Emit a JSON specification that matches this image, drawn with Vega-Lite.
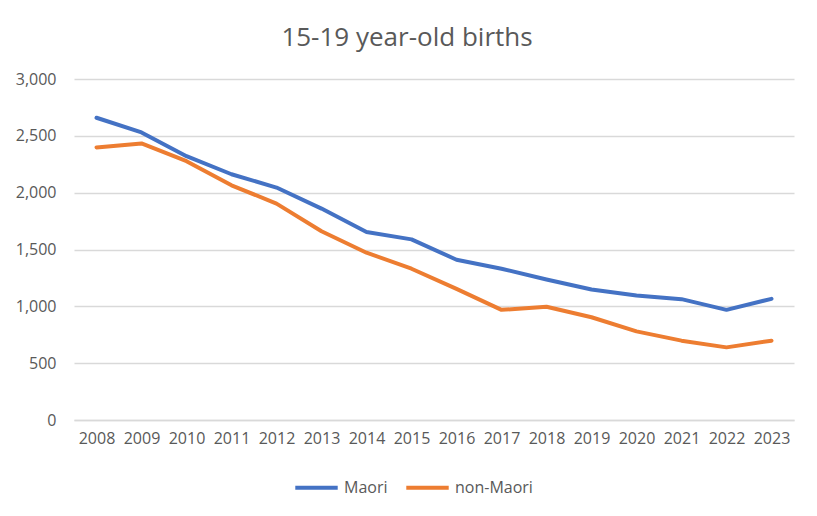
{
  "$schema": "https://vega.github.io/schema/vega-lite/v6.json",
  "width": 720,
  "height": 341,
  "autosize": "none",
  "padding": {"left": 74, "top": 79, "right": 23, "bottom": 96},
  "background": "white",
  "title": {
    "text": "15-19 year-old births",
    "fontSize": 26,
    "fontWeight": "normal",
    "font": "Open Sans",
    "color": "#595959",
    "anchor": "middle",
    "dx": -27,
    "offset": 20
  },
  "data": {
    "values": [
      {"year": "2008", "group": "Maori", "births": 2659},
      {"year": "2009", "group": "Maori", "births": 2530},
      {"year": "2010", "group": "Maori", "births": 2321},
      {"year": "2011", "group": "Maori", "births": 2162},
      {"year": "2012", "group": "Maori", "births": 2045},
      {"year": "2013", "group": "Maori", "births": 1860},
      {"year": "2014", "group": "Maori", "births": 1654},
      {"year": "2015", "group": "Maori", "births": 1589},
      {"year": "2016", "group": "Maori", "births": 1410},
      {"year": "2017", "group": "Maori", "births": 1331},
      {"year": "2018", "group": "Maori", "births": 1236},
      {"year": "2019", "group": "Maori", "births": 1148},
      {"year": "2020", "group": "Maori", "births": 1095},
      {"year": "2021", "group": "Maori", "births": 1063},
      {"year": "2022", "group": "Maori", "births": 969},
      {"year": "2023", "group": "Maori", "births": 1066},
      {"year": "2008", "group": "non-Maori", "births": 2398},
      {"year": "2009", "group": "non-Maori", "births": 2433},
      {"year": "2010", "group": "non-Maori", "births": 2277},
      {"year": "2011", "group": "non-Maori", "births": 2065},
      {"year": "2012", "group": "non-Maori", "births": 1904},
      {"year": "2013", "group": "non-Maori", "births": 1660},
      {"year": "2014", "group": "non-Maori", "births": 1472},
      {"year": "2015", "group": "non-Maori", "births": 1331},
      {"year": "2016", "group": "non-Maori", "births": 1154},
      {"year": "2017", "group": "non-Maori", "births": 969},
      {"year": "2018", "group": "non-Maori", "births": 996},
      {"year": "2019", "group": "non-Maori", "births": 904},
      {"year": "2020", "group": "non-Maori", "births": 780},
      {"year": "2021", "group": "non-Maori", "births": 698},
      {"year": "2022", "group": "non-Maori", "births": 639},
      {"year": "2023", "group": "non-Maori", "births": 698}
    ]
  },
  "mark": {"type": "line", "strokeWidth": 4, "strokeCap": "round", "strokeJoin": "round"},
  "encoding": {
    "x": {
      "field": "year",
      "type": "ordinal",
      "scale": {"type": "point", "padding": 0.5},
      "axis": {
        "title": null,
        "labelAngle": 0,
        "ticks": false,
        "domain": true,
        "domainColor": "#d9d9d9",
        "domainWidth": 1.3,
        "grid": false,
        "labelPadding": 10,
        "labelFontSize": 16,
        "labelFont": "Open Sans",
        "labelColor": "#595959"
      }
    },
    "y": {
      "field": "births",
      "type": "quantitative",
      "scale": {"domain": [0, 3000], "nice": false},
      "axis": {
        "title": null,
        "values": [0, 500, 1000, 1500, 2000, 2500, 3000],
        "format": ",.0f",
        "ticks": false,
        "domain": false,
        "grid": true,
        "gridColor": "#d9d9d9",
        "gridWidth": 1.3,
        "labelPadding": 18,
        "labelFontSize": 16,
        "labelFont": "Open Sans",
        "labelColor": "#595959"
      }
    },
    "color": {
      "field": "group",
      "type": "nominal",
      "scale": {"domain": ["Maori", "non-Maori"], "range": ["#4472C4", "#ED7D31"]},
      "legend": {
        "title": null,
        "orient": "none",
        "legendX": 219,
        "legendY": 385,
        "direction": "horizontal",
        "symbolType": "stroke",
        "symbolStrokeWidth": 4,
        "symbolSize": 1800,
        "labelFontSize": 16,
        "labelFont": "Open Sans",
        "labelColor": "#595959",
        "columnPadding": 10,
        "labelOffset": 4
      }
    }
  },
  "config": {
    "view": {"stroke": null}
  }
}
